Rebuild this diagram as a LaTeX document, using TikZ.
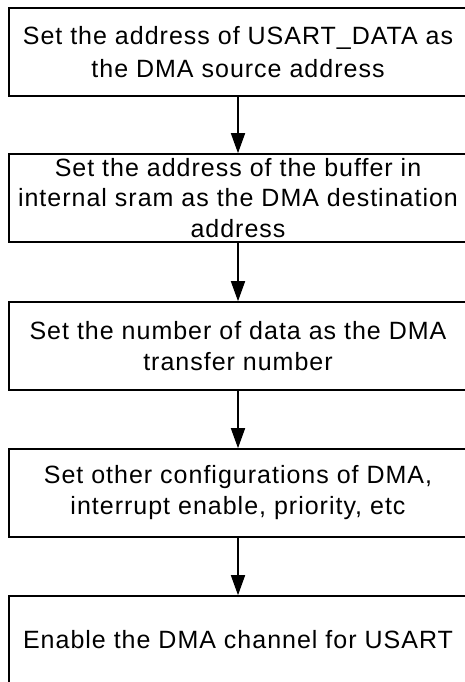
\documentclass[tikz,border=0pt]{standalone}
\usepackage{fontspec}
\setmainfont{Liberation Sans}[LetterSpace=4]
\usetikzlibrary{arrows.meta}
\begin{document}
\begin{tikzpicture}[x=1pt,y=1pt,
  stepbox/.style={draw=black,line width=1.6pt,minimum width=458pt,minimum height=88pt,
    inner sep=0pt,align=center,font=\fontsize{25}{31}\selectfont},
  flow/.style={line width=1.6pt,-{Triangle[length=20pt,width=14pt]}}]
\useasboundingbox (0,0) rectangle (465,-682);
\node[stepbox,font=\fontsize{25}{33}\selectfont] (b1) at (238,-52) {Set the address of USART\_DATA as\\the DMA source address};
\node[stepbox,font=\fontsize{25}{30.5}\selectfont] (b2) at (238,-198) {Set the address of the buffer in\\internal sram as the DMA destination\\address};
\node[stepbox] (b3) at (238,-346) {Set the number of data as the DMA\\transfer number};
\node[stepbox] (b4) at (238,-493) {Set other configurations of DMA,\\interrupt enable, priority, etc};
\node[stepbox] (b5) at (238,-640) {Enable the DMA channel for USART};
\draw[flow] (b1) -- (b2);
\draw[flow] (b2) -- (b3);
\draw[flow] (b3) -- (b4);
\draw[flow] (b4) -- (b5);
\end{tikzpicture}
\end{document}
